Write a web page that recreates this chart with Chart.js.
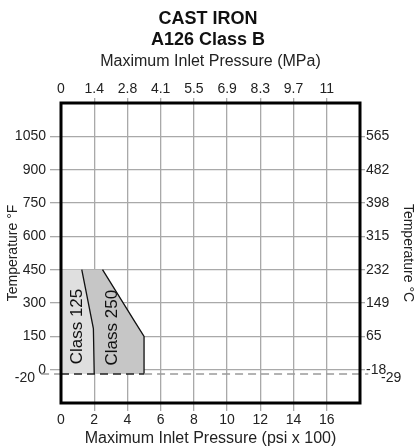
<!DOCTYPE html>
<html>
<head>
<meta charset="utf-8">
<script src="https://cdn.jsdelivr.net/npm/chart.js@4/dist/chart.umd.min.js"></script>
<style>
  body { margin: 0; background: #fff; }
  canvas { display: block; }
</style>
</head>
<body>
<canvas id="chart" width="416" height="448"></canvas>
<script>
// pressure ticks (psi x 100) and the matching MPa labels on the top axis
const psiTicks = [0, 2, 4, 6, 8, 10, 12, 14, 16];
const mpaLabels = ['0', '1.4', '2.8', '4.1', '5.5', '6.9', '8.3', '9.7', '11'];
// temperature ticks in °F and the matching °C labels on the right
const tempF = [0, 150, 300, 450, 600, 750, 900, 1050];
const tempC = ['-18', '65', '149', '232', '315', '398', '482', '565'];
const minTempF = -20;
const minTempC = '-29';
// rating envelopes: max pressure (psi x 100) vs temperature (°F), closed outlines
const class125 = [{x: 0, y: 450}, {x: 1.25, y: 450}, {x: 1.95, y: 185}, {x: 2.0, y: -20}, {x: 0, y: -20}];
const class250 = [{x: 0, y: 450}, {x: 2.5, y: 450}, {x: 4.45, y: 215}, {x: 5.0, y: 150}, {x: 5.0, y: -20}, {x: 0, y: -20}];

const FONT = '"Liberation Sans", Arial, sans-serif';
const GRID = '#a9a9a9';
const NONE = 'rgba(0,0,0,0)';

// area only, no outline
function area(pts, color) {
    return { data: pts, backgroundColor: color, borderWidth: 0, borderColor: NONE,
             pointRadius: 0, tension: 0, fill: 'shape' };
}
// the pressure limit edge (everything but the top and bottom sides)
function edge(pts) {
    return { data: pts.slice(1, -1), borderColor: '#111', borderWidth: 1.3,
             pointRadius: 0, tension: 0, fill: false };
}

// the -20 °F line, dark where it crosses the shaded areas
const xEnd = class250[4].x;
const minLine = [{x: -1.2, y: minTempF}, {x: 0, y: minTempF}, {x: xEnd, y: minTempF}, {x: 18.5, y: minTempF}];

const extras = {
    id: 'extras',
    afterDatasetsDraw(chart) {
        const {ctx, chartArea: a, scales} = chart;
        const x = scales.x, y = scales.y;
        ctx.save();
        ctx.strokeStyle = '#000';
        ctx.lineWidth = 3;
        ctx.strokeRect(a.left, a.top, a.right - a.left, a.bottom - a.top);

        // class names inside the areas
        ctx.fillStyle = '#111';
        ctx.font = '17px ' + FONT;
        ctx.textAlign = 'center';
        ctx.textBaseline = 'middle';
        [['Class 125', 0.96, 194], ['Class 250', 3.06, 189]].forEach(([t, px, py]) => {
            ctx.save();
            ctx.translate(x.getPixelForValue(px), y.getPixelForValue(py));
            ctx.rotate(-Math.PI / 2);
            ctx.fillText(t, 0, 0);
            ctx.restore();
        });

        // minimum temperature labels
        ctx.font = '14px ' + FONT;
        ctx.fillStyle = '#222';
        const yMin = y.getPixelForValue(minTempF);
        ctx.textAlign = 'right';
        ctx.fillText(String(minTempF), a.left - 26, yMin + 4);
        ctx.textAlign = 'left';
        ctx.fillText(minTempC, a.right + 21, yMin + 4);
        ctx.restore();
    }
};

new Chart(document.getElementById('chart'), {
    type: 'line',
    data: {
        datasets: [{
            label: 'min',
            data: minLine,
            borderWidth: 1.5,
            borderDash: [8, 5],
            segment: { borderColor: c => c.p0DataIndex === 1 ? '#222' : '#9a9a9a' },
            pointRadius: 0,
            fill: false,
            clip: false
        },
        edge(class125),
        area(class125, '#dfdfdf'),
        edge(class250),
        area(class250, '#c6c6c6')]
    },
    options: {
        responsive: false,
        animation: false,
        layout: { padding: 0 },
        plugins: {
            legend: { display: false },
            tooltip: { enabled: false },
            title: {
                display: true,
                text: ['CAST IRON', 'A126 Class B'],
                color: '#111',
                font: { family: FONT, size: 18, weight: 'bold', lineHeight: 1.2 },
                padding: { top: 8, bottom: 0 }
            }
        },
        scales: {
            x: {
                type: 'linear',
                position: 'bottom',
                min: 0,
                max: 18,
                afterBuildTicks: s => { s.ticks = psiTicks.concat([18]).map(v => ({value: v})); },
                afterFit: s => { s.height = 45; },
                ticks: {
                    autoSkip: false,
                    maxRotation: 0,
                    padding: 1,
                    color: '#222',
                    font: { family: FONT, size: 14 },
                    callback: v => psiTicks.includes(v) ? String(v) : ''
                },
                grid: {
                    color: c => (c.tick && (c.tick.value === 0 || c.tick.value === 18)) ? NONE : GRID,
                    lineWidth: 1.3,
                    tickLength: 8
                },
                border: { display: false },
                title: {
                    display: true,
                    text: 'Maximum Inlet Pressure (psi x 100)',
                    color: '#222',
                    font: { family: FONT, size: 16 },
                    padding: { top: 0, bottom: 0 }
                }
            },
            x2: {
                type: 'linear',
                position: 'top',
                min: 0,
                max: 18,
                afterBuildTicks: s => { s.ticks = psiTicks.concat([18]).map(v => ({value: v})); },
                afterFit: s => { s.height = 51.8; },
                ticks: {
                    autoSkip: false,
                    maxRotation: 0,
                    padding: 0,
                    color: '#222',
                    font: { family: FONT, size: 14 },
                    callback: v => {
                        const i = psiTicks.indexOf(v);
                        return i >= 0 ? mpaLabels[i] : '';
                    }
                },
                grid: {
                    drawOnChartArea: false,
                    color: c => (c.tick && (c.tick.value === 0 || c.tick.value === 18)) ? NONE : GRID,
                    lineWidth: 1.3,
                    tickLength: 5
                },
                border: { display: false },
                title: {
                    display: true,
                    text: 'Maximum Inlet Pressure (MPa)',
                    color: '#222',
                    font: { family: FONT, size: 16 },
                    padding: { top: 1, bottom: 0 }
                }
            },
            y: {
                type: 'linear',
                position: 'left',
                min: -150,
                max: 1200,
                afterBuildTicks: s => { s.ticks = [-150].concat(tempF, [1200]).map(v => ({value: v})); },
                afterFit: s => { s.width = 61; },
                ticks: {
                    autoSkip: false,
                    padding: 4,
                    color: '#222',
                    font: { family: FONT, size: 14 },
                    callback: v => tempF.includes(v) ? String(v) : ''
                },
                grid: {
                    color: c => (c.tick && (c.tick.value === -150 || c.tick.value === 1200)) ? NONE : GRID,
                    lineWidth: 1.3,
                    tickLength: 11
                },
                border: { display: false },
                title: {
                    display: true,
                    text: 'Temperature °F',
                    color: '#222',
                    font: { family: FONT, size: 14 },
                    padding: { top: 5, bottom: 0 }
                }
            },
            y2: {
                type: 'linear',
                position: 'right',
                min: -150,
                max: 1200,
                afterBuildTicks: s => { s.ticks = [-150].concat(tempF, [1200]).map(v => ({value: v})); },
                afterFit: s => { s.width = 56; },
                ticks: {
                    autoSkip: false,
                    padding: 1,
                    color: '#222',
                    font: { family: FONT, size: 14 },
                    callback: v => {
                        const i = tempF.indexOf(v);
                        return i >= 0 ? tempC[i] : '';
                    }
                },
                grid: {
                    drawOnChartArea: false,
                    color: c => (c.tick && (c.tick.value === -150 || c.tick.value === 1200)) ? NONE : GRID,
                    lineWidth: 1.3,
                    tickLength: 5
                },
                border: { display: false },
                title: {
                    display: true,
                    text: 'Temperature °C',
                    color: '#222',
                    font: { family: FONT, size: 14 },
                    padding: { top: 0, bottom: 0 }
                }
            }
        }
    },
    plugins: [extras]
});
</script>
</body>
</html>
